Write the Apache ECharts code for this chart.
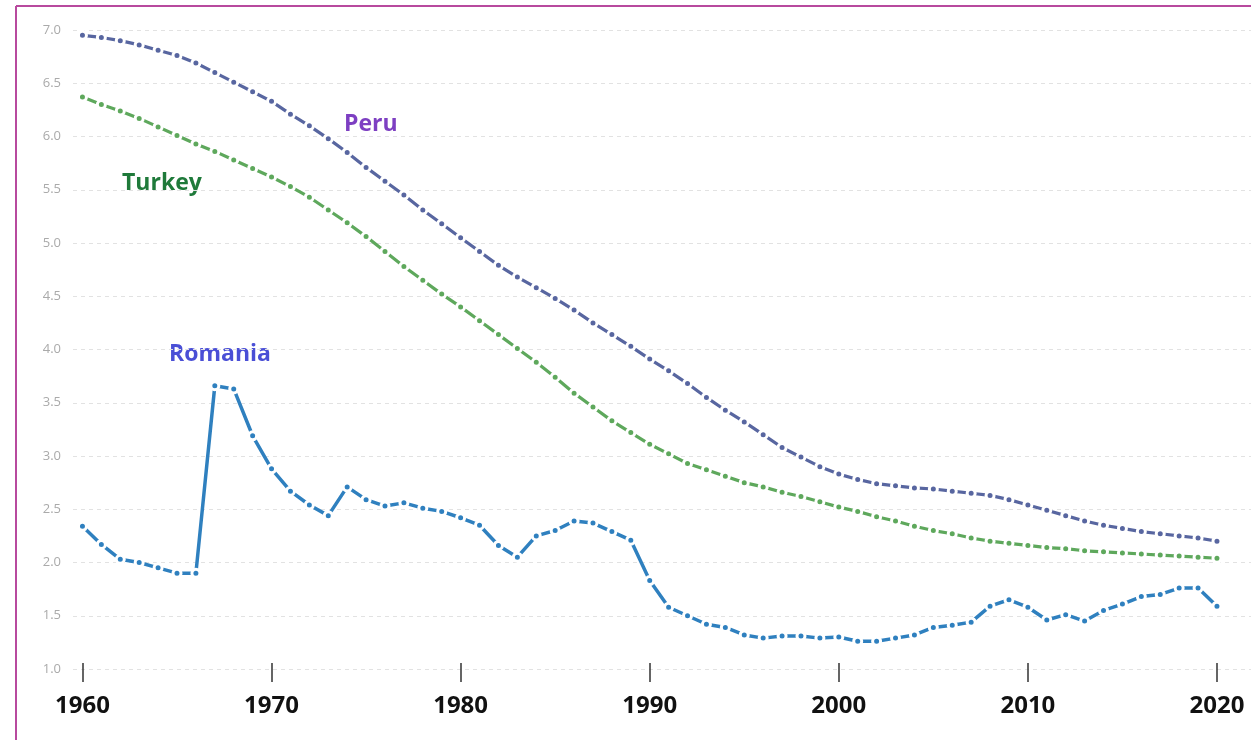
<!DOCTYPE html>
<html>
<head>
<meta charset="utf-8">
<style>
    html, body { margin: 0; padding: 0; background: #fff; }
    #chart { width: 1251px; height: 740px; }
</style>
<script src="https://cdn.jsdelivr.net/npm/echarts@6/dist/echarts.min.js"></script>
</head>
<body>
<div id="chart"></div>
<script>
// 年份
var years = [1960, 1961, 1962, 1963, 1964, 1965, 1966, 1967, 1968, 1969,
    1970, 1971, 1972, 1973, 1974, 1975, 1976, 1977, 1978, 1979,
    1980, 1981, 1982, 1983, 1984, 1985, 1986, 1987, 1988, 1989,
    1990, 1991, 1992, 1993, 1994, 1995, 1996, 1997, 1998, 1999,
    2000, 2001, 2002, 2003, 2004, 2005, 2006, 2007, 2008, 2009,
    2010, 2011, 2012, 2013, 2014, 2015, 2016, 2017, 2018, 2019, 2020];
// 各国数据
var peru = [6.95, 6.93, 6.90, 6.86, 6.81, 6.76, 6.69, 6.60, 6.51, 6.42,
    6.33, 6.21, 6.10, 5.98, 5.85, 5.71, 5.58, 5.45, 5.31, 5.18,
    5.05, 4.92, 4.79, 4.68, 4.58, 4.48, 4.37, 4.25, 4.14, 4.03,
    3.91, 3.80, 3.68, 3.55, 3.43, 3.32, 3.20, 3.08, 2.99, 2.90,
    2.83, 2.78, 2.74, 2.72, 2.70, 2.69, 2.67, 2.65, 2.63, 2.59,
    2.54, 2.49, 2.44, 2.39, 2.35, 2.32, 2.29, 2.27, 2.25, 2.23, 2.20];
var turkey = [6.37, 6.30, 6.24, 6.17, 6.09, 6.01, 5.93, 5.86, 5.78, 5.70,
    5.62, 5.53, 5.43, 5.31, 5.19, 5.06, 4.92, 4.78, 4.65, 4.52,
    4.40, 4.27, 4.14, 4.01, 3.88, 3.74, 3.59, 3.46, 3.33, 3.22,
    3.11, 3.02, 2.93, 2.87, 2.81, 2.75, 2.71, 2.66, 2.62, 2.57,
    2.52, 2.48, 2.43, 2.39, 2.34, 2.30, 2.27, 2.23, 2.20, 2.18,
    2.16, 2.14, 2.13, 2.11, 2.10, 2.09, 2.08, 2.07, 2.06, 2.05, 2.04];
var romania = [2.34, 2.17, 2.03, 2.00, 1.95, 1.90, 1.90, 3.66, 3.63, 3.19,
    2.88, 2.67, 2.54, 2.44, 2.71, 2.59, 2.53, 2.56, 2.51, 2.48,
    2.42, 2.35, 2.16, 2.05, 2.25, 2.30, 2.39, 2.37, 2.29, 2.21,
    1.83, 1.58, 1.50, 1.42, 1.39, 1.32, 1.29, 1.31, 1.31, 1.29,
    1.30, 1.26, 1.26, 1.29, 1.32, 1.39, 1.41, 1.44, 1.59, 1.65,
    1.58, 1.46, 1.51, 1.45, 1.55, 1.61, 1.68, 1.70, 1.76, 1.76, 1.59];
// 刻度
var xTicks = [1960, 1970, 1980, 1990, 2000, 2010, 2020];

(function () {
    var myChart = echarts.init(document.getElementById('chart'));

    function pairs(arr) {
        return years.map(function (y, i) { return [y, arr[i]]; });
    }

    function lineSeries(name, color, arr, width) {
        return {
            name: name,
            type: 'line',
            data: pairs(arr),
            symbol: 'circle',
            symbolSize: 8,
            showSymbol: true,
            lineStyle: { color: color, width: width },
            itemStyle: { color: color, borderColor: '#fff', borderWidth: 3 },
            emphasis: { disabled: true },
            z: 3
        };
    }

    var option = {
        animation: false,
        grid: { left: 73, right: 0, top: 30, bottom: 71 },
        xAxis: {
            type: 'value',
            min: 1959.5,
            max: 2021.8,
            offset: -6,
            axisLine: { show: false },
            axisTick: {
                show: true,
                length: 19,
                customValues: xTicks,
                lineStyle: { color: '#333', width: 1.5 }
            },
            axisLabel: {
                customValues: xTicks,
                margin: 31,
                color: '#111',
                fontSize: 24,
                fontWeight: 'bold',
                fontFamily: 'Open Sans',
                formatter: function (v) { return String(v); }
            },
            splitLine: { show: false }
        },
        yAxis: {
            type: 'value',
            min: 1,
            max: 7,
            interval: 0.5,
            axisLine: { show: false },
            axisTick: { show: false },
            axisLabel: {
                margin: 12,
                color: '#aaa',
                fontSize: 13,
                fontFamily: 'Open Sans',
                formatter: function (v) { return v.toFixed(1); }
            },
            splitLine: {
                lineStyle: { color: '#e2e2e2', width: 1, type: [4, 4] }
            }
        },
        series: [
            lineSeries('Peru', '#5866a0', peru, 3.2),
            lineSeries('Turkey', '#5ea85c', turkey, 3.2),
            lineSeries('Romania', '#2f80bf', romania, 3.5)
        ],
        graphic: [
            // 外框
            { type: 'line', shape: { x1: 16, y1: 6, x2: 16, y2: 740 }, style: { stroke: '#b84a9e', lineWidth: 2 } },
            { type: 'line', shape: { x1: 16, y1: 6, x2: 1251, y2: 6 }, style: { stroke: '#b84a9e', lineWidth: 2 } },
            // 国家名称
            { type: 'text', left: 344, top: 113, style: { text: 'Peru', fill: '#7d3fc2', font: 'bold 23px "Open Sans"' } },
            { type: 'text', left: 122, top: 172, style: { text: 'Turkey', fill: '#1f7a3a', font: 'bold 23px "Open Sans"' } },
            { type: 'text', left: 169, top: 343, style: { text: 'Romania', fill: '#4a4fd6', font: 'bold 23px "Open Sans"' } }
        ]
    };

    myChart.setOption(option);
    window.addEventListener('resize', function () {
        myChart.resize();
    });
})();
</script>
</body>
</html>
